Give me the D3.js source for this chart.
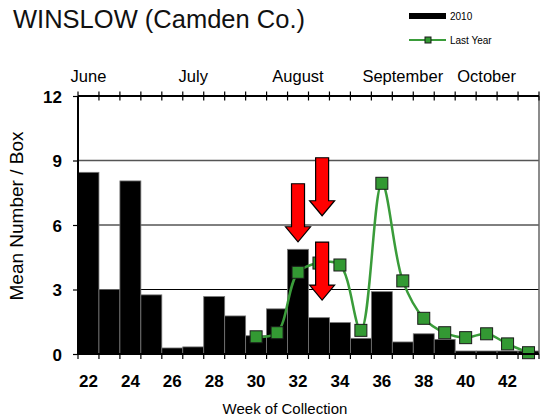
<!DOCTYPE html>
<html>
<head>
<meta charset="utf-8">
<script src="https://cdn.jsdelivr.net/npm/d3@7"></script>
<style>
    body { margin: 0; background: #fff; }
    text { font-family: Arial, "Liberation Sans", sans-serif; }
</style>
</head>
<body>
<div id="chart"></div>
<script>
// data
var weeks = [22, 23, 24, 25, 26, 27, 28, 29, 30, 31, 32, 33, 34, 35, 36, 37, 38, 39, 40, 41, 42, 43];
var bars2010 = [8.45, 3.0, 8.05, 2.75, 0.28, 0.33, 2.67, 1.77, 0.85, 2.1, 4.87, 1.69, 1.46, 0.73, 2.9, 0.56, 0.94, 0.68, 0.14, 0.14, 0.14, 0.14];
var lastYearWeeks = [30, 31, 32, 33, 34, 35, 36, 37, 38, 39, 40, 41, 42, 43];
var lastYear = [0.8, 0.99, 3.8, 4.23, 4.14, 1.1, 7.94, 3.4, 1.66, 0.99, 0.76, 0.94, 0.47, 0.06];
var yTicks = [0, 3, 6, 9, 12];
var xLabelWeeks = [22, 24, 26, 28, 30, 32, 34, 36, 38, 40, 42];
var months = ["June", "July", "August", "September", "October"];
var monthWeeks = [22, 27, 32, 37, 41];
var arrowWeeks = [32, 33.15, 33.15];
var arrowTips = [5.22, 6.43, 2.51];

var margin = {top: 96, right: 2, bottom: 64, left: 78},
    width = 541 - margin.left - margin.right,
    height = 418 - margin.top - margin.bottom;

var root = d3.select("#chart").append("svg")
    .attr("width", 541)
    .attr("height", 418);

var svg = root.append("g")
    .attr("transform", "translate(" + margin.left + "," + margin.top + ")");

var x = d3.scaleBand()
    .domain(weeks)
    .range([0, width])
    .padding(0);

var y = d3.scaleLinear()
    .domain([0, 12])
    .range([height, 0]);

// centre of a (possibly fractional) week
function xc(w) {
    return x(weeks[0]) + (w - weeks[0] + 0.5) * x.step();
}

// gridlines
svg.selectAll(".grid")
    .data(yTicks.filter(function(d) { return d > 0 && d < 12; }))
    .enter()
    .append("line")
        .attr("x1", 0)
        .attr("x2", width)
        .attr("y1", function(d) { return y(d); })
        .attr("y2", function(d) { return y(d); })
        .attr("stroke", function(d) { return d == 9 ? "#555" : "#000"; })
        .attr("stroke-width", function(d) { return d == 9 ? 1.5 : 1; });

// right border
svg.append("line")
    .attr("x1", width).attr("x2", width)
    .attr("y1", 0).attr("y2", height)
    .attr("stroke", "#666")
    .attr("stroke-width", 1.5);

// bars
svg.selectAll(".bar")
    .data(bars2010)
    .enter()
    .append("rect")
        .attr("x", function(d, i) { return x(weeks[i]); })
        .attr("y", function(d) { return y(d); })
        .attr("width", x.bandwidth())
        .attr("height", function(d) { return height - y(d); })
        .attr("fill", "#000")
        .attr("stroke", "#777")
        .attr("stroke-width", 0.8);

// last year line
svg.append("path")
    .datum(lastYear)
        .attr("fill", "none")
        .attr("stroke", "#3a9c3a")
        .attr("stroke-width", 2.5)
        .attr("d", d3.line()
            .curve(d3.curveCatmullRom.alpha(0.5))
            .x(function(d, i) { return xc(lastYearWeeks[i]); })
            .y(function(d) { return y(d); }));

svg.selectAll(".marker")
    .data(lastYear)
    .enter()
    .append("rect")
        .attr("x", function(d, i) { return xc(lastYearWeeks[i]) - 6; })
        .attr("y", function(d) { return y(d) - 6; })
        .attr("width", 12)
        .attr("height", 12)
        .attr("fill", "#339933")
        .attr("stroke", "#1a1a1a")
        .attr("stroke-width", 1);

// red arrows
var arrow = d3.path();
arrow.moveTo(0, 0);
arrow.lineTo(-12.5, -15);
arrow.lineTo(-6.5, -15);
arrow.lineTo(-6.5, -58);
arrow.lineTo(6.5, -58);
arrow.lineTo(6.5, -15);
arrow.lineTo(12.5, -15);
arrow.closePath();

svg.selectAll(".arrow")
    .data(arrowTips)
    .enter()
    .append("path")
        .attr("d", arrow.toString())
        .attr("transform", function(d, i) { return "translate(" + xc(arrowWeeks[i]) + "," + y(d) + ")"; })
        .attr("fill", "#ff0000")
        .attr("stroke", "#000")
        .attr("stroke-width", 1.2)
        .attr("stroke-linejoin", "miter");

// axes lines
svg.append("line")
    .attr("x1", 0).attr("x2", width)
    .attr("y1", 0).attr("y2", 0)
    .attr("stroke", "#000").attr("stroke-width", 2);
svg.append("line")
    .attr("x1", 0).attr("x2", width)
    .attr("y1", height).attr("y2", height)
    .attr("stroke", "#000").attr("stroke-width", 2);
svg.append("line")
    .attr("x1", 0).attr("x2", 0)
    .attr("y1", 0).attr("y2", height)
    .attr("stroke", "#000").attr("stroke-width", 2);

// week boundary ticks, top (crossing) and bottom (outside)
var bounds = weeks.map(function(w) { return x(w); }).concat([width]);

svg.selectAll(".ttick")
    .data(bounds)
    .enter()
    .append("line")
        .attr("x1", function(d) { return d; })
        .attr("x2", function(d) { return d; })
        .attr("y1", -4.5)
        .attr("y2", 4.5)
        .attr("stroke", "#000")
        .attr("stroke-width", 1.2);

svg.selectAll(".btick")
    .data(bounds)
    .enter()
    .append("line")
        .attr("x1", function(d) { return d; })
        .attr("x2", function(d) { return d; })
        .attr("y1", height)
        .attr("y2", height + 5)
        .attr("stroke", "#000")
        .attr("stroke-width", 1.2);

// y axis
var yAxis = svg.append("g")
    .call(d3.axisLeft(y).tickValues(yTicks).tickSize(5).tickPadding(11).tickFormat(d3.format("d")));
yAxis.select(".domain").remove();
yAxis.selectAll("line").attr("stroke", "#000").attr("stroke-width", 1.2);
yAxis.selectAll("text")
    .attr("font-size", "17px")
    .attr("font-weight", "bold")
    .attr("font-family", "Arial, 'Liberation Sans', sans-serif")
    .attr("fill", "#000")
    .attr("dy", "0.36em");

// week labels
svg.selectAll(".wlabel")
    .data(xLabelWeeks)
    .enter()
    .append("text")
        .attr("x", function(d) { return xc(d); })
        .attr("y", height + 33)
        .attr("text-anchor", "middle")
        .attr("font-size", "17px")
        .attr("font-weight", "bold")
        .text(function(d) { return d; });

// month labels
svg.selectAll(".mlabel")
    .data(months)
    .enter()
    .append("text")
        .attr("x", function(d, i) { return xc(monthWeeks[i]); })
        .attr("y", -14)
        .attr("text-anchor", "middle")
        .attr("font-size", "16.5px")
        .text(function(d) { return d; });

// axis titles
root.append("text")
    .attr("x", 285)
    .attr("y", 414)
    .attr("text-anchor", "middle")
    .attr("font-size", "15px")
    .text("Week of Collection");

root.append("text")
    .attr("transform", "translate(23,216) rotate(-90)")
    .attr("text-anchor", "middle")
    .attr("font-size", "19px")
    .text("Mean Number / Box");

// title
root.append("text")
    .attr("x", 13)
    .attr("y", 27.5)
    .attr("font-size", "25.5px")
    .attr("fill", "#111")
    .attr("textLength", 292)
    .attr("lengthAdjust", "spacing")
    .text("WINSLOW (Camden Co.)");

// legend
var legend = root.append("g");
legend.append("rect")
    .attr("x", 409).attr("y", 13)
    .attr("width", 37).attr("height", 6)
    .attr("fill", "#000");
legend.append("text")
    .attr("x", 450).attr("y", 19.5)
    .attr("font-size", "10px")
    .text("2010");
legend.append("line")
    .attr("x1", 409).attr("x2", 446)
    .attr("y1", 40).attr("y2", 40)
    .attr("stroke", "#3a9c3a").attr("stroke-width", 2);
legend.append("rect")
    .attr("x", 425).attr("y", 37)
    .attr("width", 6).attr("height", 6)
    .attr("fill", "#339933")
    .attr("stroke", "#1a1a1a").attr("stroke-width", 1);
legend.append("text")
    .attr("x", 450).attr("y", 43.5)
    .attr("font-size", "10px")
    .text("Last Year");
</script>
</body>
</html>
